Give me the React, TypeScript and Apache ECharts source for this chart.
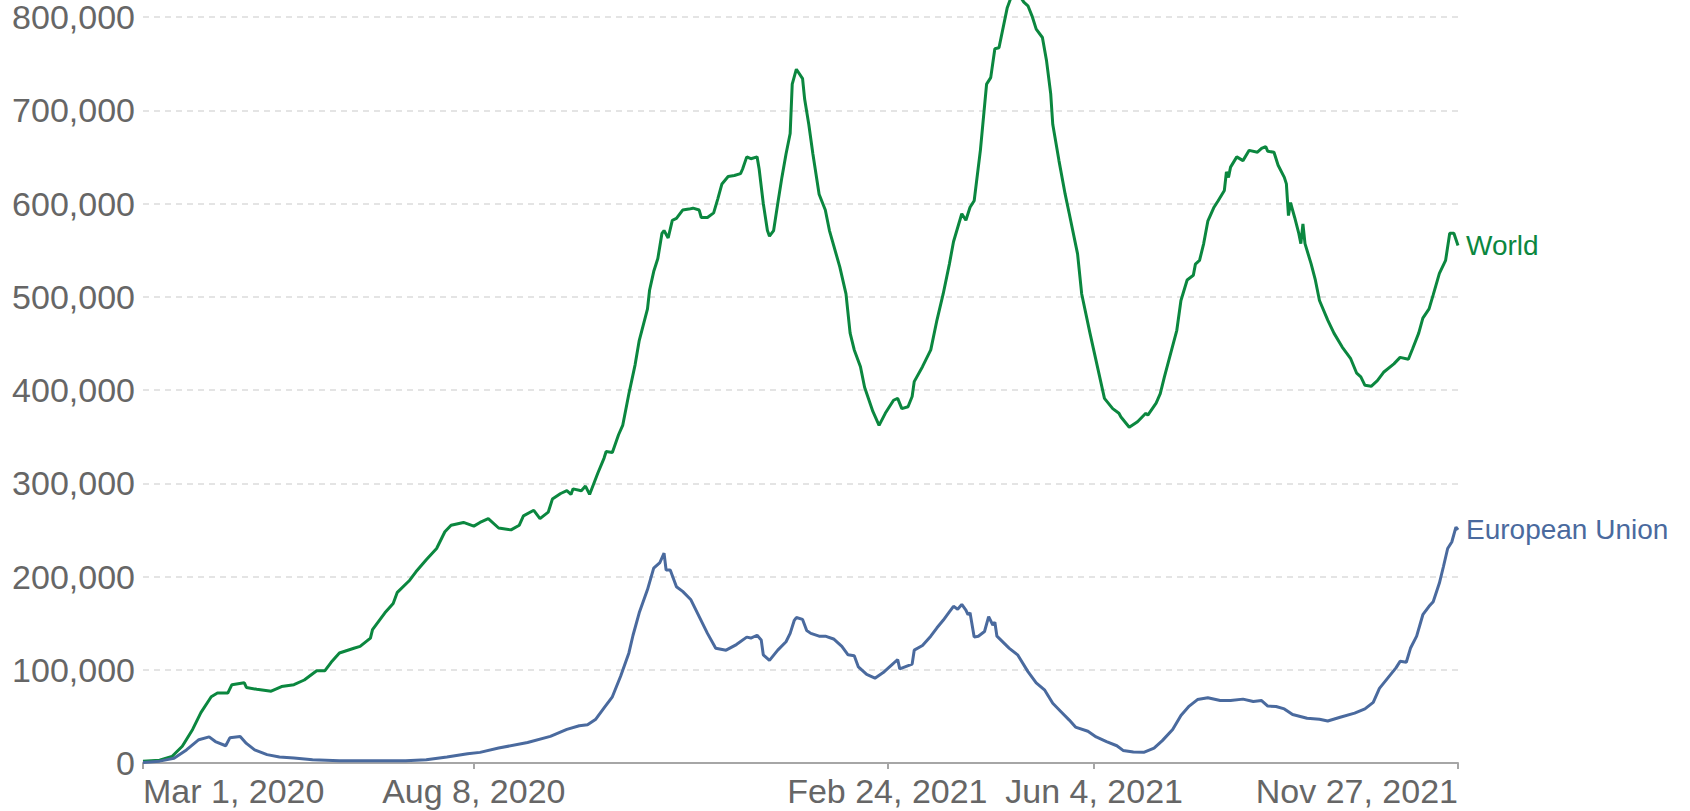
import React, { useEffect, useRef } from "react";
import * as echarts from "echarts";

// Days counted from Mar 1, 2020
const tickDays = [0, 160, 360, 460, 636];
const tickLabels = ["Mar 1, 2020", "Aug 8, 2020", "Feb 24, 2021", "Jun 4, 2021", "Nov 27, 2021"];

const worldDays = [
  0, 8, 14, 19, 24, 28, 33, 36, 41, 43, 49, 50, 55, 62, 67, 73, 78, 84, 88, 91,
  95, 102, 105, 110, 111, 117, 121, 123, 129, 132, 137, 142, 146, 149, 155, 160, 163, 167, 172, 178,
  182, 184, 189, 192, 196, 198, 202, 205, 207, 208, 212, 214, 216, 220, 223, 224, 227, 230, 232, 235,
  238, 240, 244, 245, 247, 249, 251, 252, 254, 256, 258, 261, 264, 266, 269, 270, 273, 276, 278, 280,
  283, 286, 289, 290, 292, 294, 297, 298, 300, 302, 303, 305, 307, 309, 311, 313, 314, 316, 319, 320,
  322, 324, 327, 330, 332, 337, 340, 342, 344, 347, 349, 353, 356, 359, 363, 365, 367, 370, 372, 373,
  377, 381, 384, 387, 390, 392, 396, 398, 400, 402, 405, 408, 410, 412, 414, 418, 420, 423, 426, 428,
  430, 432, 435, 437, 439, 440, 443, 446, 448, 452, 454, 458, 462, 465, 469, 472, 473, 477, 481, 485,
  486, 490, 492, 494, 497, 500, 502, 505, 508, 509, 511, 513, 515, 518, 520, 523, 524, 525, 526, 529,
  532, 535, 539, 541, 543, 544, 547, 549, 552, 553, 554, 555, 557, 559, 560, 561, 562, 565, 567, 569,
  573, 576, 580, 584, 587, 589, 591, 594, 597, 600, 605, 608, 612, 614, 617, 619, 622, 624, 627, 630,
  632, 634, 636,
];
const worldCases = [
  1800, 3000, 7000, 18000, 36000, 54000, 71000, 75000, 75000, 84000, 86000, 81000, 79000, 77000, 82000, 84000, 89000, 99000, 99000, 108000,
  118000, 123000, 125000, 134000, 143000, 161000, 171000, 183000, 196000, 205000, 218000, 230000, 248000, 255000, 258000, 254000, 258000, 262000, 252000, 250000,
  255000, 265000, 271000, 262000, 269000, 283000, 289000, 292000, 288000, 294000, 292000, 297000, 288000, 311000, 327000, 334000, 333000, 352000, 362000, 396000,
  427000, 453000, 487000, 507000, 527000, 541000, 568000, 571000, 563000, 582000, 584000, 593000, 594000, 595000, 593000, 585000, 585000, 590000, 605000, 621000,
  629000, 630000, 632000, 637000, 650000, 648000, 650000, 637000, 600000, 571000, 565000, 571000, 600000, 628000, 653000, 675000, 728000, 744000, 734000, 712000,
  685000, 653000, 610000, 593000, 571000, 532000, 503000, 461000, 443000, 425000, 403000, 377000, 362000, 375000, 389000, 391000, 380000, 382000, 393000, 409000,
  425000, 443000, 475000, 503000, 535000, 559000, 589000, 582000, 596000, 603000, 657000, 728000, 735000, 766000, 767000, 810000, 822000, 826000, 816000, 812000,
  801000, 787000, 778000, 753000, 718000, 685000, 646000, 610000, 589000, 546000, 503000, 461000, 421000, 391000, 380000, 375000, 371000, 360000, 366000, 375000,
  373000, 386000, 396000, 414000, 439000, 464000, 496000, 518000, 523000, 535000, 539000, 557000, 581000, 596000, 603000, 614000, 634000, 628000, 639000, 650000,
  646000, 657000, 655000, 659000, 661000, 656000, 655000, 641000, 628000, 621000, 587000, 601000, 585000, 568000, 557000, 578000, 557000, 535000, 518000, 496000,
  475000, 461000, 446000, 434000, 418000, 414000, 405000, 404000, 410000, 419000, 428000, 435000, 433000, 444000, 461000, 477000, 487000, 502000, 525000, 539000,
  568000, 568000, 555000,
];

const euDays = [
  0, 8, 15, 21, 27, 32, 35, 40, 42, 47, 50, 54, 60, 66, 73, 82, 95, 111, 127, 137,
  147, 157, 163, 172, 186, 197, 205, 211, 215, 219, 223, 227, 231, 235, 237, 240, 244, 247, 250, 252,
  253, 255, 258, 261, 265, 269, 273, 277, 282, 287, 292, 294, 297, 299, 300, 303, 307, 311, 313, 315,
  316, 319, 321, 323, 327, 330, 334, 338, 341, 344, 346, 350, 354, 358, 362, 365, 366, 372, 373, 377,
  381, 384, 387, 390, 392, 394, 396, 398, 399, 400, 402, 404, 407, 409, 411, 412, 413, 419, 423, 428,
  432, 436, 440, 444, 448, 451, 457, 461, 466, 471, 474, 479, 484, 489, 493, 498, 502, 506, 510, 515,
  521, 526, 532, 537, 541, 544, 548, 552, 556, 563, 569, 573, 579, 586, 591, 595, 598, 602, 606, 608,
  611, 613, 616, 619, 622, 624, 627, 629, 631, 633, 635, 636,
];
const euCases = [
  500, 2000, 5000, 14000, 25000, 28000, 23000, 18500, 27000, 28500, 21000, 14000, 9000, 6400, 5300, 3500, 2500, 2500, 2500, 3500,
  6400, 10000, 11400, 16000, 22000, 28500, 36000, 40000, 41000, 47000, 59000, 71000, 93000, 118000, 137000, 161000, 186000, 209000, 215000, 225000,
  207000, 207000, 189000, 184000, 175000, 157000, 139000, 123000, 121000, 127000, 135000, 134000, 137000, 132000, 116000, 110000, 121000, 130000, 139000, 153000,
  156000, 154000, 142000, 139000, 136000, 136000, 133000, 125000, 116000, 115000, 103000, 95000, 91000, 97000, 105000, 111000, 101000, 106000, 121000, 126000,
  136000, 145000, 153000, 162000, 168000, 165000, 170000, 164000, 159000, 161000, 135000, 136000, 141000, 157000, 148000, 151000, 136000, 123000, 116000, 98000,
  86000, 78500, 64000, 55000, 46000, 38500, 34000, 28000, 23000, 18500, 13500, 11800, 11400, 16000, 24000, 36000, 51000, 61000, 68000, 70000,
  67000, 67000, 68500, 66000, 67000, 61000, 60600, 58000, 52000, 48000, 47000, 45000, 49000, 53500, 58000, 65000, 80000, 91000, 102000, 109000,
  108000, 123000, 136000, 159000, 168000, 173000, 193000, 211000, 230000, 237000, 253000, 250000,
];

const WORLD_COLOR = "#0b873f";
const EU_COLOR = "#4a6a9e";
const FONT = "'Liberation Sans', Arial, sans-serif";

export default function App() {
  const ref = useRef<HTMLDivElement | null>(null);
  useEffect(() => {
    if (!ref.current) return;
    const chart = echarts.init(ref.current, undefined, { renderer: "svg" });
    const fmtNum = (v: number) => v.toLocaleString("en-US");
    chart.setOption({
      animation: false,
      backgroundColor: "#ffffff",
      textStyle: { fontFamily: FONT },
      grid: { left: 143, right: 232, top: 16, bottom: 48 },
      xAxis: {
        type: "value",
        min: 0,
        max: 636,
        splitLine: { show: false },
        axisLine: { show: true, lineStyle: { color: "#a6a6a6", width: 2 } },
        axisTick: { show: true, customValues: tickDays, length: 6, lineStyle: { color: "#a6a6a6", width: 2 } },
        axisLabel: {
          customValues: tickDays,
          formatter: (v: number) => {
            const i = tickDays.indexOf(Math.round(v));
            return i >= 0 ? tickLabels[i] : "";
          },
          alignMinLabel: "left",
          alignMaxLabel: "right",
          color: "#666666",
          fontSize: 34,
          lineHeight: 30,
          fontFamily: FONT,
          margin: 13,
        },
      },
      yAxis: {
        type: "value",
        min: 0,
        max: 800000,
        interval: 100000,
        axisLine: { show: false },
        axisTick: { show: false },
        axisLabel: { formatter: fmtNum, color: "#666666", fontSize: 34, lineHeight: 28, fontFamily: FONT, margin: 8 },
        splitLine: { show: true, lineStyle: { color: "#dcdcdc", width: 1.5, type: [6, 5] } },
      },
      series: [
        {
          name: "World",
          type: "line",
          data: worldDays.map((d, i) => [d, worldCases[i]]),
          showSymbol: false,
          symbol: "none",
          clip: false,
          lineStyle: { color: WORLD_COLOR, width: 3 },
          itemStyle: { color: WORLD_COLOR },
          emphasis: { disabled: true },
          endLabel: { show: true, formatter: "{a}", color: WORLD_COLOR, fontSize: 28, fontFamily: FONT, distance: 8 },
        },
        {
          name: "European Union",
          type: "line",
          data: euDays.map((d, i) => [d, euCases[i]]),
          showSymbol: false,
          symbol: "none",
          clip: false,
          lineStyle: { color: EU_COLOR, width: 3 },
          itemStyle: { color: EU_COLOR },
          emphasis: { disabled: true },
          endLabel: { show: true, formatter: "{a}", color: EU_COLOR, fontSize: 28, fontFamily: FONT, distance: 8 },
        },
      ],
    });
    return () => chart.dispose();
  }, []);
  return (
    <div
      ref={ref}
      style={{ position: "absolute", left: 0, top: 0, width: 1690, height: 811, background: "#fff" }}
    />
  );
}
